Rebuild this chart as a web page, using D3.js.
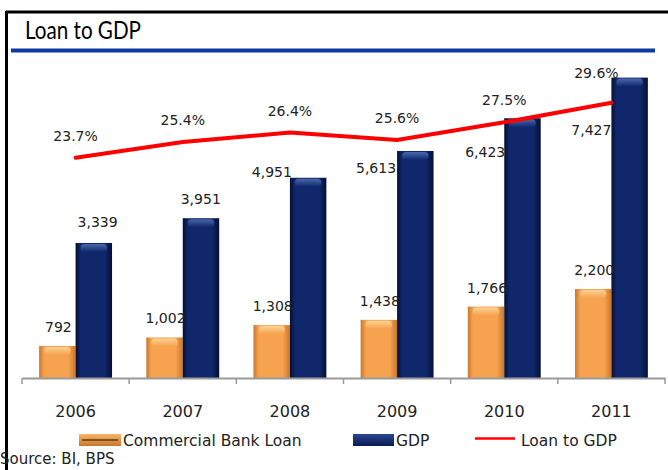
<!DOCTYPE html>
<html lang="en">
  <head>
    <meta charset="utf-8" />
    <title>Loan to GDP</title>
    <script src="https://d3js.org/d3.v7.min.js"></script>
    <style>
      body { margin: 0; background: #fff; }
      text { font-family: "DejaVu Sans", sans-serif; fill: #222; }
    </style>
  </head>
  <body>
    <script>

    // chart data
    var years = ["2006", "2007", "2008", "2009", "2010", "2011"];
    var loan = [792, 1002, 1308, 1438, 1766, 2200];
    var gdp = [3339, 3951, 4951, 5613, 6423, 7427];
    var ratio = [23.7, 25.4, 26.4, 25.6, 27.5, 29.6];
    var seriesNames = ["Commercial Bank Loan", "GDP", "Loan to GDP"];

    var w = 668, h = 470;
    var baseY = 378;

    var svg = d3.select("body").append("svg")
      .attr("width", w)
      .attr("height", h);

    // gradients for the bevelled bars
    var defs = svg.append("defs");
    function hGrad(id, edge, mid) {
      var g = defs.append("linearGradient").attr("id", id)
        .attr("x1", "0%").attr("x2", "100%").attr("y1", "0%").attr("y2", "0%");
      g.append("stop").attr("offset", "0%").attr("stop-color", edge);
      g.append("stop").attr("offset", "14%").attr("stop-color", mid);
      g.append("stop").attr("offset", "80%").attr("stop-color", mid);
      g.append("stop").attr("offset", "100%").attr("stop-color", edge);
    }
    function vGrad(id, top, bottom) {
      var g = defs.append("linearGradient").attr("id", id)
        .attr("x1", "0%").attr("x2", "0%").attr("y1", "0%").attr("y2", "100%");
      g.append("stop").attr("offset", "0%").attr("stop-color", top);
      g.append("stop").attr("offset", "100%").attr("stop-color", bottom);
    }
    hGrad("loanFill", "#c9772c", "#f6a24f");
    hGrad("gdpFill", "#050f33", "#10276b");
    vGrad("loanCap", "#fdd393", "#f6a24f");
    vGrad("gdpCap", "#4a68ad", "#10276b");
    vGrad("loanLeg", "#f8b468", "#c9772c");
    vGrad("gdpLeg", "#2a4790", "#0a1c52");

    // frame + title
    svg.append("line").attr("x1", 6).attr("x2", w).attr("y1", 12).attr("y2", 12)
      .attr("stroke", "#000").attr("stroke-width", 3);
    svg.append("line").attr("x1", 6.5).attr("x2", 6.5).attr("y1", 11).attr("y2", h)
      .attr("stroke", "#000").attr("stroke-width", 3);
    svg.append("text")
      .attr("x", 25).attr("y", 39)
      .attr("textLength", 116)
      .attr("lengthAdjust", "spacingAndGlyphs")
      .style("font-family", "Lato, sans-serif")
      .style("font-size", "25px")
      .style("fill", "#000")
      .text("Loan to GDP");
    svg.append("line").attr("x1", 11).attr("x2", 655).attr("y1", 50.5).attr("y2", 50.5)
      .attr("stroke", "#0b3aa0").attr("stroke-width", 4);

    // scales
    var x = d3.scaleBand().domain(years).range([22, 665]).padding(0);
    var xs = d3.scaleBand().domain(["loan", "gdp"]).range([0, x.bandwidth()])
      .paddingInner(0).paddingOuter(0.47);
    var y = d3.scaleLinear().domain([0, 9000]).range([baseY, 14]);
    var y2 = d3.scaleLinear().domain([0, 39]).range([baseY + 1, 15]);

    var data = years.map(function (yr, i) {
      return { year: yr, loan: loan[i], gdp: gdp[i], ratio: ratio[i] };
    });

    // bars
    function drawBars(key, fill, cap) {
      var g = svg.append("g");
      var bw = xs.bandwidth();
      g.selectAll("rect.body").data(data).join("rect")
        .attr("class", "body")
        .attr("x", d => x(d.year) + xs(key))
        .attr("y", d => y(d[key]))
        .attr("width", bw)
        .attr("height", d => baseY - y(d[key]))
        .attr("fill", "url(#" + fill + ")");
      g.selectAll("rect.cap").data(data).join("rect")
        .attr("class", "cap")
        .attr("x", d => x(d.year) + xs(key) + 5)
        .attr("y", d => y(d[key]) + 1)
        .attr("width", bw - 10)
        .attr("height", 8)
        .attr("rx", 4)
        .attr("fill", "url(#" + cap + ")");
    }
    drawBars("loan", "loanFill", "loanCap");
    drawBars("gdp", "gdpFill", "gdpCap");

    // x axis
    var xAxis = svg.append("g")
      .attr("transform", "translate(0," + baseY + ")")
      .call(d3.axisBottom(x).tickSize(0).tickSizeOuter(0).tickPadding(28));
    xAxis.select(".domain").attr("stroke", "#9a9a9a").attr("stroke-width", 2);
    xAxis.selectAll("text")
      .style("font-size", "16px")
      .style("font-family", "DejaVu Sans, sans-serif")
      .attr("fill", "#222");
    var edges = years.map(d => x(d)).concat([x.range()[1]]);
    svg.append("g").selectAll("line").data(edges).join("line")
      .attr("x1", d => d).attr("x2", d => d)
      .attr("y1", baseY).attr("y2", baseY + 6)
      .attr("stroke", "#9a9a9a").attr("stroke-width", 1.5);

    // loan to gdp line
    var cx = d => x(d.year) + x.bandwidth() / 2;
    svg.append("path")
      .datum(data)
      .attr("fill", "none")
      .attr("stroke", "#ff0000")
      .attr("stroke-width", 4)
      .attr("stroke-linecap", "round")
      .attr("d", d3.line().x(cx).y(d => y2(d.ratio)));

    var fmt = d3.format(",");

    // labels for loan bars
    svg.append("g").selectAll("text").data(data).join("text")
      .attr("x", d => x(d.year) + xs("loan") + xs.bandwidth() / 2 + 1)
      .attr("y", d => y(d.loan) - 14)
      .attr("text-anchor", "middle")
      .style("font-size", "14px")
      .text(d => fmt(d.loan));

    // labels for gdp bars (placement as in the original chart)
    var gdpLabelAt = [
      { anchor: "middle", dx: 22, dy: -16 },
      { anchor: "middle", dx: 18, dy: -14 },
      { anchor: "end", dx: 2, dy: -1 },
      { anchor: "end", dx: -1, dy: 22 },
      { anchor: "end", dx: 1, dy: 39 },
      { anchor: "end", dx: 0, dy: 57 }
    ];
    svg.append("g").selectAll("text").data(data).join("text")
      .attr("x", (d, i) => x(d.year) + xs("gdp") + gdpLabelAt[i].dx)
      .attr("y", (d, i) => y(d.gdp) + gdpLabelAt[i].dy)
      .attr("text-anchor", (d, i) => gdpLabelAt[i].anchor)
      .style("font-size", "14px")
      .text(d => fmt(d.gdp));

    // labels for ratio line
    svg.append("g").selectAll("text").data(data).join("text")
      .attr("x", (d, i) => cx(d) + (i === data.length - 1 ? -15 : 0))
      .attr("y", (d, i) => y2(d.ratio) - (i === data.length - 1 ? 25 : 17))
      .attr("text-anchor", "middle")
      .style("font-size", "14px")
      .text(d => d.ratio.toFixed(1) + "%");

    // legend
    var leg = svg.append("g").style("font-size", "15.5px");
    leg.append("rect").attr("x", 79).attr("y", 434).attr("width", 42).attr("height", 12)
      .attr("fill", "url(#loanLeg)");
    leg.append("line").attr("x1", 82).attr("x2", 118).attr("y1", 440).attr("y2", 440)
      .attr("stroke", "#5a3a1a").attr("stroke-width", 1.5);
    leg.append("text").attr("x", 123).attr("y", 446).text(seriesNames[0]);
    leg.append("rect").attr("x", 353).attr("y", 434).attr("width", 41).attr("height", 12)
      .attr("fill", "url(#gdpLeg)");
    leg.append("text").attr("x", 396).attr("y", 446).text(seriesNames[1]);
    leg.append("line").attr("x1", 475).attr("x2", 515).attr("y1", 438.5).attr("y2", 438.5)
      .attr("stroke", "#ff0000").attr("stroke-width", 2.5);
    leg.append("text").attr("x", 521).attr("y", 446).text(seriesNames[2]);

    // source note
    svg.append("text")
      .attr("x", 0).attr("y", 464)
      .style("font-size", "15px")
      .text("Source: BI, BPS");

    </script>
  </body>
</html>
